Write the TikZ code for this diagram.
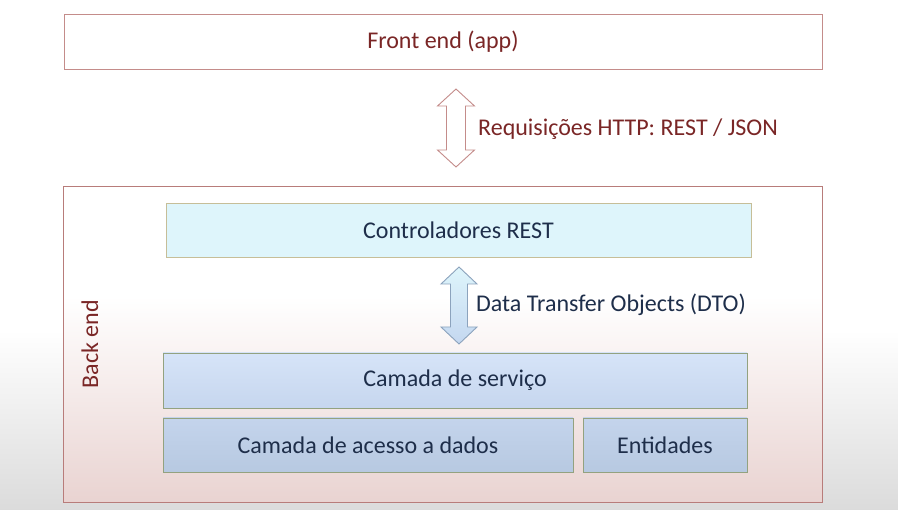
\documentclass[tikz,border=0pt]{standalone}
\usepackage{fontspec}
\setmainfont{Carlito}
\begin{document}
\begin{tikzpicture}[x=1pt,y=-1pt,
  redtxt/.style={text=redtext},
  bluetxt/.style={text=navytext},
  bigfont/.style={font=\fontsize{24}{28}\selectfont},
  layerbox/.style={draw=layerline,line width=0.9pt,inner sep=0pt,bluetxt,bigfont},
  outerbox/.style={draw=outerline,line width=0.9pt,inner sep=0pt,redtxt,bigfont},
  lbl/.style={anchor=west,inner sep=0pt,bigfont}]
\definecolor{navytext}{HTML}{1E2E4A}
\definecolor{redtext}{HTML}{7A2626}
\definecolor{layerline}{HTML}{93A27F}
\definecolor{outerline}{HTML}{C48C8A}
\definecolor{backline}{HTML}{B87C7A}
\definecolor{backpink}{HTML}{E9D3D1}
\definecolor{restfill}{HTML}{DEF5FB}
\definecolor{restline}{HTML}{C6BE98}
\definecolor{svctop}{HTML}{D6E4F8}
\definecolor{svcbot}{HTML}{C6D6EE}
\definecolor{daotop}{HTML}{C4D4EC}
\definecolor{daobot}{HTML}{B7C9E1}
\definecolor{dtoline}{HTML}{8CA3BD}
\definecolor{dtobot}{HTML}{C4D7F0}
% page background with a soft grey band at the foot
\useasboundingbox (0,0) rectangle (898,510);
\fill[white] (0,0) rectangle (898,330);
\shade[top color=white,bottom color=black!14] (0,330) rectangle (898,510);

% front end
\node[outerbox,fill=white,minimum width=758pt,minimum height=55pt] (front) at (443,41.5) {Front end (app)};

% back end container
\node[outerbox,draw=none,minimum width=758pt,minimum height=315pt] (back) at (443,344.5) {};
\fill[white] (back.north west) rectangle ([yshift=-110pt]back.north east);
\shade[top color=white,bottom color=backpink] ([yshift=-110pt]back.north west) rectangle (back.south east);
\draw[backline,line width=0.9pt] (back.north west) rectangle (back.south east);
\node[redtxt,rotate=90,bigfont,inner sep=0pt] (belabel) at (90,344) {Back end};

% layers
\node[layerbox,draw=restline,fill=restfill,minimum width=585pt,minimum height=54pt] (rest) at (458.5,230) {Controladores REST};
\node[layerbox,top color=svctop,bottom color=svcbot,minimum width=584pt,minimum height=55pt] (service) at (455,380.5) {Camada de serviço};
\node[layerbox,top color=daotop,bottom color=daobot,minimum width=410pt,minimum height=54pt] (repo) at (368,445) {Camada de acesso a dados};
\node[layerbox,top color=daotop,bottom color=daobot,minimum width=164pt,minimum height=54pt] (entities) at (665,445) {Entidades};

% HTTP double arrow between front end and back end
\coordinate (a1t) at (456,89);
\coordinate (a1b) at (456,167);
\draw[draw=outerline,fill=white,line width=0.9pt,line join=miter]
  (a1t) -- ++(18.5,17) -- ++(-9,0) -- ++(0,44) -- ++(9,0) -- (a1b)
  -- ++(-18.5,-17) -- ++(9,0) -- ++(0,-44) -- ++(-9,0) -- cycle;
\node[lbl,redtxt] (http) at (478,129) {Requisições HTTP: REST / JSON};

% DTO double arrow between controllers and services
\coordinate (a2t) at (459,267);
\coordinate (a2b) at (459,344);
\shade[top color=restfill,bottom color=dtobot]
  (a2t) -- ++(18,17) -- ++(-9.5,0) -- ++(0,43) -- ++(9.5,0) -- (a2b)
  -- ++(-18,-17) -- ++(9.5,0) -- ++(0,-43) -- ++(-9.5,0) -- cycle;
\draw[draw=dtoline,line width=0.9pt,line join=miter]
  (a2t) -- ++(18,17) -- ++(-9.5,0) -- ++(0,43) -- ++(9.5,0) -- (a2b)
  -- ++(-18,-17) -- ++(9.5,0) -- ++(0,-43) -- ++(-9.5,0) -- cycle;
\node[lbl,bluetxt] (dto) at (476,305) {Data Transfer Objects (DTO)};
\end{tikzpicture}
\end{document}
